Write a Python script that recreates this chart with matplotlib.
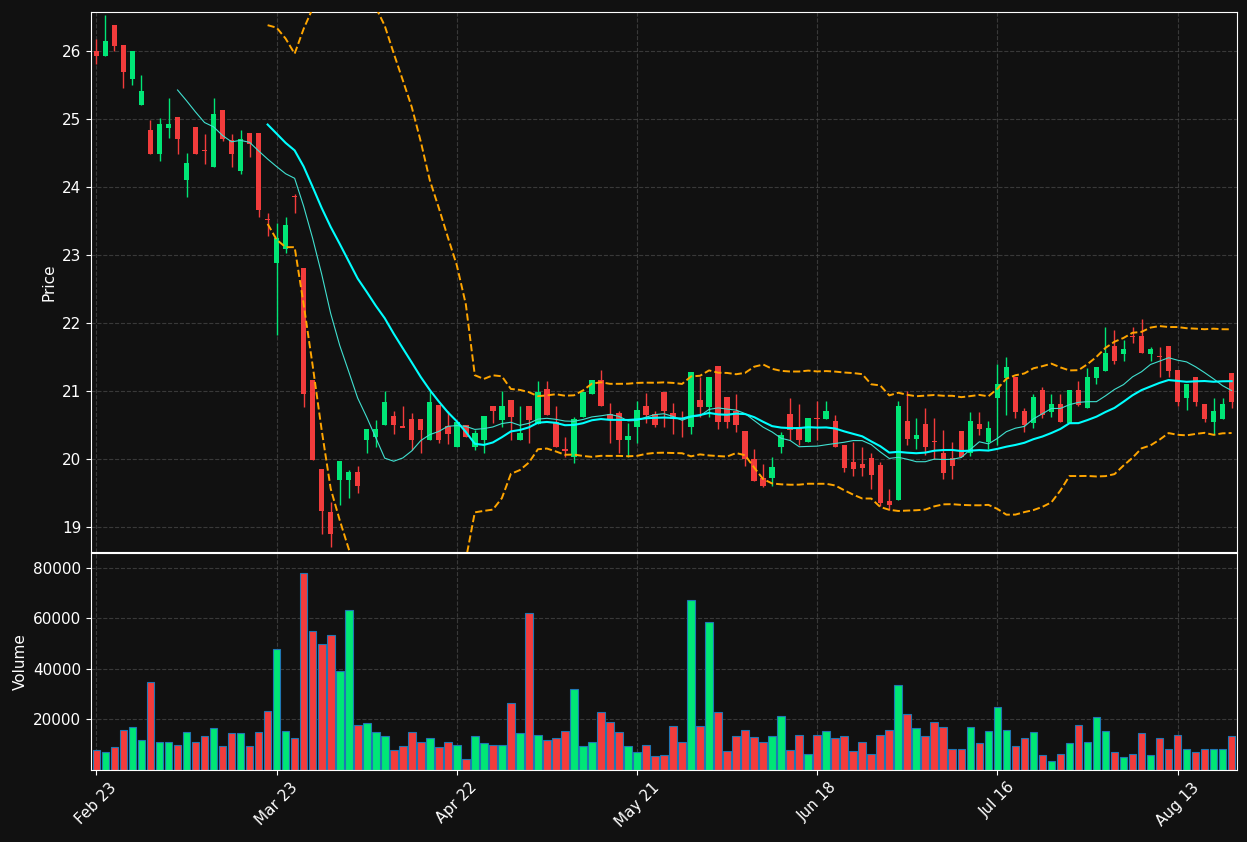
import matplotlib
matplotlib.use("Agg")
import matplotlib.pyplot as plt
import numpy as np
import pandas as pd

tick_labels = ["Feb 23", "Mar 23", "Apr 22", "May 21", "Jun 18", "Jul 16", "Aug 13"]

opens = [25.99,25.92,26.37,26.08,25.58,25.20,24.83,24.48,24.86,25.02,
         24.10,24.87,24.53,24.29,25.12,24.68,24.23,24.78,24.78,23.52,
         22.88,23.08,23.86,22.80,21.15,19.84,19.21,19.69,19.69,19.80,
         20.28,20.32,20.50,20.62,20.47,20.58,20.58,20.27,20.78,20.47,
         20.17,20.48,20.17,20.27,20.77,20.57,20.86,20.27,20.77,20.51,
         21.01,20.53,20.13,20.02,20.61,20.95,21.15,20.65,20.67,20.27,
         20.47,20.77,20.65,20.97,20.67,20.59,20.47,20.86,20.76,21.35,
         20.90,20.70,20.40,19.99,19.71,19.72,20.18,20.65,20.46,20.24,
         20.59,20.59,20.55,20.19,19.94,19.91,20.00,19.90,19.37,19.39,
         20.55,20.29,20.50,20.25,20.08,20.00,20.40,20.09,20.50,20.24,
         20.90,21.19,21.19,20.69,20.53,21.00,20.69,20.80,20.53,21.00,
         20.75,21.19,21.29,21.65,21.54,21.80,21.80,21.54,21.50,21.65,
         21.29,20.90,21.19,20.79,20.54,20.58,21.25]
closes = [25.92,26.14,26.07,25.69,25.99,25.40,24.48,24.92,24.92,24.71,
          24.34,24.48,24.52,25.06,24.71,24.48,24.69,24.63,23.66,23.51,
          23.23,23.43,23.85,20.95,19.98,19.23,18.90,19.95,19.80,19.60,
          20.43,20.43,20.82,20.50,20.46,20.27,20.42,20.82,20.27,20.36,
          20.53,20.32,20.37,20.62,20.70,20.77,20.61,20.37,20.57,20.97,
          20.65,20.17,20.12,20.58,20.97,21.15,20.77,20.58,20.27,20.32,
          20.71,20.65,20.50,20.70,20.58,20.58,21.26,20.76,21.20,20.54,
          20.54,20.50,19.99,19.68,19.60,19.87,20.34,20.43,20.28,20.59,
          20.58,20.70,20.18,19.86,19.85,19.86,19.76,19.35,19.32,20.76,
          20.29,20.34,20.18,20.24,19.79,19.89,20.03,20.54,20.44,20.45,
          21.09,21.34,20.69,20.50,20.90,20.65,20.80,20.54,21.00,20.79,
          21.19,21.34,21.55,21.44,21.61,21.79,21.55,21.61,21.49,21.29,
          20.83,21.09,20.83,20.58,20.69,20.79,20.83]
highs = [26.18,26.52,26.37,26.08,25.99,25.65,24.98,25.01,25.30,25.02,
         24.49,24.87,24.78,25.31,25.12,24.78,24.83,24.78,24.78,23.62,
         23.47,23.56,23.90,22.80,21.15,19.84,19.36,19.95,19.84,19.90,
         20.43,20.57,21.00,20.71,20.77,20.67,20.58,21.00,20.78,20.70,
         20.53,20.48,20.43,20.62,20.77,21.00,20.86,20.77,20.77,21.15,
         21.15,20.77,20.32,20.61,20.97,21.15,21.30,20.82,20.71,20.52,
         20.85,20.97,20.71,20.97,20.82,20.71,21.26,21.20,21.20,21.35,
         20.90,20.95,20.40,20.14,19.93,20.03,20.40,20.90,20.80,20.59,
         20.85,20.85,20.65,20.19,20.25,20.18,20.08,19.95,19.55,20.85,
         21.00,20.60,20.75,20.60,20.42,20.25,20.40,20.69,20.69,20.55,
         21.40,21.50,21.19,20.75,20.95,21.05,20.95,20.95,21.00,21.15,
         21.34,21.34,21.94,21.89,21.75,21.94,22.05,21.65,21.65,21.65,
         21.29,21.09,21.19,20.79,20.89,20.90,21.25]
lows = [25.80,25.92,25.99,25.45,25.49,25.20,24.48,24.38,24.72,24.48,
        23.85,24.48,24.33,24.29,24.67,24.29,24.19,24.44,23.55,23.28,
        21.82,23.03,23.62,20.76,19.98,18.89,18.70,19.32,19.42,19.50,
        20.09,20.18,20.50,20.36,20.47,20.13,20.08,20.27,20.23,20.22,
        20.17,20.32,20.13,20.08,20.53,20.47,20.28,20.27,20.23,20.51,
        20.65,20.17,20.02,19.94,20.61,20.95,20.77,20.23,20.08,20.03,
        20.23,20.52,20.47,20.47,20.37,20.32,20.37,20.62,20.62,20.44,
        20.45,20.40,19.90,19.68,19.58,19.60,20.08,20.28,20.20,20.24,
        20.28,20.59,20.18,19.80,19.75,19.74,19.55,19.30,19.25,19.39,
        20.20,20.15,20.05,20.00,19.70,19.70,20.03,20.04,20.35,20.15,
        20.20,20.65,20.60,20.40,20.45,20.60,20.62,20.54,20.53,20.78,
        20.75,21.10,21.29,21.40,21.44,21.71,21.55,21.44,21.20,21.20,
        20.78,20.72,20.77,20.54,20.35,20.58,20.74]
volumes = [8000,7000,9000,16000,17000,12000,35000,11000,11000,10000,
           15000,11000,13500,16500,9500,14500,14500,9500,15000,23500,
           48000,15500,12500,78000,55000,50000,53500,39000,63500,18000,
           18500,15000,13500,8000,9500,15000,11000,12500,9000,11000,
           10000,4500,13500,10500,10000,10000,26500,14500,62000,14000,
           12000,12500,15500,32000,9500,11000,23000,19000,15000,9500,
           7000,10000,5500,6000,17500,11000,67500,17500,58500,23000,
           7500,13500,16000,13000,11000,13500,21500,8000,14000,6500,
           14000,15500,12500,13500,7500,11000,6500,14000,16000,33500,
           22000,16500,13500,19000,17000,8500,8500,17000,10500,15500,
           25000,16000,9500,12500,15000,6000,3500,6500,10500,18000,
           11000,21000,15500,7000,5000,6500,14500,6000,12500,8500,
           14000,8500,7000,8500,8500,8500,13500]

BG = "#111111"
GREEN = "#00e676"
RED = "#f23c3c"

o = np.array(opens); c = np.array(closes); h = np.array(highs); l = np.array(lows)
v = np.array(volumes)
x = np.arange(len(c))
up = c >= o
colors = np.where(up, GREEN, RED)

cs = pd.Series(c)
ma10 = cs.rolling(10).mean()
ma20 = cs.rolling(20).mean()
sd20 = cs.rolling(20).std(ddof=0)

fig = plt.figure(figsize=(12.47, 8.42), dpi=100, facecolor=BG)
ax = fig.add_axes([0.073, 0.3445, 0.919, 0.6415], facecolor=BG)
axv = fig.add_axes([0.073, 0.0855, 0.919, 0.258], facecolor=BG, sharex=ax)

ax.vlines(x, l, h, colors=colors, linewidth=1, zorder=2)
ax.bar(x, np.abs(c - o) + 0.01, bottom=np.minimum(o, c), width=0.6, color=colors, zorder=3)
ax.plot(x, ma10, color="#40e0d0", lw=0.8, zorder=4)
ax.plot(x, ma20, color="#00ffff", lw=1.5, zorder=4)
ax.plot(x, ma20 + 2 * sd20, color="#ffa500", lw=1.4, ls="--", zorder=4)
ax.plot(x, ma20 - 2 * sd20, color="#ffa500", lw=1.4, ls="--", zorder=4)
ax.set_ylim(18.63, 26.574)
ax.set_xlim(-0.6, len(c) - 0.4)
ax.set_ylabel("Price", color="white", fontsize=11)

axv.bar(x, v, width=0.85, color=colors, edgecolor="#1f77b4", linewidth=0.8)
axv.set_ylim(0, 86000)
axv.set_yticks([20000, 40000, 60000, 80000])
axv.set_ylabel("Volume", color="white", fontsize=11)

tick_pos = np.arange(len(tick_labels)) * 20
axv.set_xticks(tick_pos)
axv.set_xticklabels(tick_labels, rotation=45)
plt.setp(ax.get_xticklabels(), visible=False)

for a in (ax, axv):
    a.grid(True, color="#444444", ls="--", lw=0.8, alpha=0.8)
    a.set_axisbelow(True)
    a.tick_params(colors="white", labelsize=11)
    for s in a.spines.values():
        s.set_color("white")

fig.savefig("out.png", dpi=100, facecolor=BG)
